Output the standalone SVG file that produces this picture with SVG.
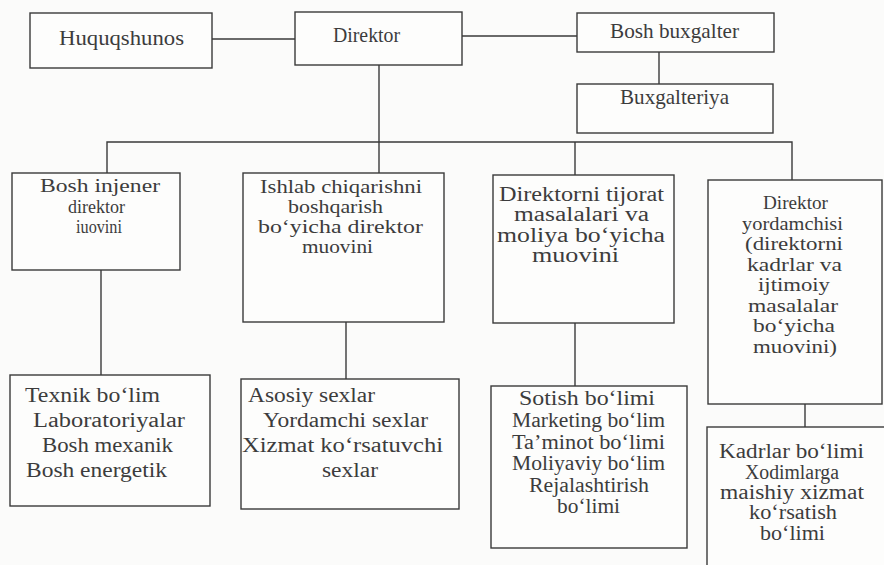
<svg xmlns="http://www.w3.org/2000/svg" width="884" height="565" viewBox="0 0 884 565">
<style>
.bg{fill:#fbfbfa}
.box{fill:#fdfdfc;stroke:#3a3a3a;stroke-width:1.4}
.ln{fill:none;stroke:#3a3a3a;stroke-width:1.4}
text{font-family:'Liberation Serif','Times New Roman',Times,serif;font-size:20px;fill:#3c3c3c}
.t{font-size:21px}
.s{font-size:19px}
</style>
<rect class="bg" x="0" y="0" width="884" height="565"/>
<g id="connectors">
<line class="ln" x1="212" y1="39" x2="295" y2="39"/>
<line class="ln" x1="462" y1="36" x2="577" y2="36"/>
<line class="ln" x1="659" y1="52" x2="659" y2="84"/>
<line class="ln" x1="379" y1="65" x2="379" y2="173"/>
<polyline class="ln" points="107,173 107,142 792,142 792,180"/>
<line class="ln" x1="575" y1="142" x2="575" y2="175"/>
<line class="ln" x1="101" y1="270" x2="101" y2="375"/>
<line class="ln" x1="346" y1="322" x2="346" y2="379"/>
<line class="ln" x1="575" y1="323" x2="575" y2="386"/>
<line class="ln" x1="805" y1="404" x2="805" y2="427"/>
</g>
<g font-family="Liberation Serif, Times New Roman, serif">
<g id="huquqshunos">
<rect class="box" x="30" y="13" width="182" height="55"/>
<text class="t" x="59" y="45" textLength="125" lengthAdjust="spacingAndGlyphs">Huquqshunos</text>
</g>
<g id="direktor">
<rect class="box" x="295" y="12" width="167" height="53"/>
<text class="t" x="333" y="42" textLength="67" lengthAdjust="spacingAndGlyphs">Direktor</text>
</g>
<g id="bosh-buxgalter">
<rect class="box" x="577" y="13" width="197" height="39"/>
<text class="t" x="610" y="38" textLength="129" lengthAdjust="spacingAndGlyphs">Bosh buxgalter</text>
</g>
<g id="buxgalteriya">
<rect class="box" x="577" y="84" width="196" height="49"/>
<text class="t" x="620" y="104" textLength="109" lengthAdjust="spacingAndGlyphs">Buxgalteriya</text>
</g>
<g id="bosh-injener">
<rect class="box" x="12" y="173" width="168" height="97"/>
<text class="s" x="40" y="192" textLength="120" lengthAdjust="spacingAndGlyphs">Bosh injener</text>
<text class="s" x="68" y="213" textLength="57" lengthAdjust="spacingAndGlyphs">direktor</text>
<text class="s" x="76" y="233" textLength="46" lengthAdjust="spacingAndGlyphs">iuovini</text>
</g>
<g id="ishlab-chiqarish">
<rect class="box" x="243" y="173" width="201" height="149"/>
<text class="s" x="260" y="193" textLength="162" lengthAdjust="spacingAndGlyphs">Ishlab chiqarishni</text>
<text class="s" x="288" y="213" textLength="95" lengthAdjust="spacingAndGlyphs">boshqarish</text>
<text class="s" x="258" y="233" textLength="165" lengthAdjust="spacingAndGlyphs">bo‘yicha direktor</text>
<text class="s" x="302" y="253" textLength="71" lengthAdjust="spacingAndGlyphs">muovini</text>
</g>
<g id="tijorat-moliya">
<rect class="box" x="493" y="175" width="181" height="148"/>
<text x="499" y="201" textLength="165" lengthAdjust="spacingAndGlyphs">Direktorni tijorat</text>
<text x="514" y="221" textLength="135" lengthAdjust="spacingAndGlyphs">masalalari va</text>
<text x="497" y="242" textLength="168" lengthAdjust="spacingAndGlyphs">moliya bo‘yicha</text>
<text x="532" y="262" textLength="87" lengthAdjust="spacingAndGlyphs">muovini</text>
</g>
<g id="direktor-yordamchisi">
<rect class="box" x="708" y="180" width="174" height="224"/>
<text class="s" x="763" y="209" textLength="65" lengthAdjust="spacingAndGlyphs">Direktor</text>
<text class="s" x="742" y="230" textLength="101" lengthAdjust="spacingAndGlyphs">yordamchisi</text>
<text class="s" x="745" y="250" textLength="98" lengthAdjust="spacingAndGlyphs">(direktorni</text>
<text class="s" x="747" y="271" textLength="95" lengthAdjust="spacingAndGlyphs">kadrlar va</text>
<text class="s" x="758" y="291" textLength="72" lengthAdjust="spacingAndGlyphs">ijtimoiy</text>
<text class="s" x="748" y="312" textLength="90" lengthAdjust="spacingAndGlyphs">masalalar</text>
<text class="s" x="753" y="332" textLength="82" lengthAdjust="spacingAndGlyphs">bo‘yicha</text>
<text class="s" x="753" y="353" textLength="84" lengthAdjust="spacingAndGlyphs">muovini)</text>
</g>
<g id="texnik">
<rect class="box" x="10" y="375" width="200" height="131"/>
<text x="25" y="402" textLength="135" lengthAdjust="spacingAndGlyphs">Texnik bo‘lim</text>
<text x="33" y="427" textLength="152" lengthAdjust="spacingAndGlyphs">Laboratoriyalar</text>
<text x="42" y="452" textLength="131" lengthAdjust="spacingAndGlyphs">Bosh mexanik</text>
<text x="26" y="477" textLength="141" lengthAdjust="spacingAndGlyphs">Bosh energetik</text>
</g>
<g id="sexlar">
<rect class="box" x="241" y="379" width="218" height="130"/>
<text x="248" y="402" textLength="127" lengthAdjust="spacingAndGlyphs">Asosiy sexlar</text>
<text x="263" y="427" textLength="165" lengthAdjust="spacingAndGlyphs">Yordamchi sexlar</text>
<text x="242" y="452" textLength="201" lengthAdjust="spacingAndGlyphs">Xizmat ko‘rsatuvchi</text>
<text x="322" y="477" textLength="56" lengthAdjust="spacingAndGlyphs">sexlar</text>
</g>
<g id="tijorat-bolimlari">
<rect class="box" x="491" y="386" width="196" height="162"/>
<text x="519" y="405" textLength="136" lengthAdjust="spacingAndGlyphs">Sotish bo‘limi</text>
<text x="512" y="427" textLength="153" lengthAdjust="spacingAndGlyphs">Marketing bo‘lim</text>
<text x="512" y="449" textLength="153" lengthAdjust="spacingAndGlyphs">Ta’minot bo‘limi</text>
<text x="512" y="470" textLength="153" lengthAdjust="spacingAndGlyphs">Moliyaviy bo‘lim</text>
<text x="529" y="492" textLength="120" lengthAdjust="spacingAndGlyphs">Rejalashtirish</text>
<text x="557" y="513" textLength="63" lengthAdjust="spacingAndGlyphs">bo‘limi</text>
</g>
<g id="kadrlar">
<rect class="box" x="707" y="427" width="180" height="150"/>
<text x="719" y="458" textLength="145" lengthAdjust="spacingAndGlyphs">Kadrlar bo‘limi</text>
<text x="745" y="479" textLength="94" lengthAdjust="spacingAndGlyphs">Xodimlarga</text>
<text x="720" y="499" textLength="144" lengthAdjust="spacingAndGlyphs">maishiy xizmat</text>
<text x="749" y="519" textLength="88" lengthAdjust="spacingAndGlyphs">ko‘rsatish</text>
<text x="760" y="540" textLength="65" lengthAdjust="spacingAndGlyphs">bo‘limi</text>
</g>
</g>
</svg>
